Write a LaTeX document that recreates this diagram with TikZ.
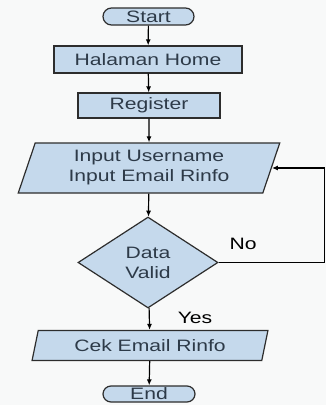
\documentclass[tikz,border=0pt]{standalone}
\usepackage{fontspec}
\setmainfont{Liberation Sans}[FakeStretch=1.28]
\usetikzlibrary{arrows.meta,shapes.geometric,shapes.misc}
\definecolor{boxblue}{RGB}{197,217,236}
\definecolor{boxline}{RGB}{45,45,45}
\definecolor{boxtext}{RGB}{45,58,72}
\definecolor{paper}{RGB}{248,249,249}
\tikzstyle{terminal}=[rounded rectangle,draw=boxline,fill=boxblue,line width=1.2pt,inner sep=0pt,minimum width=91pt,minimum height=17pt,text=boxtext]
\tikzstyle{process}=[rectangle,draw=boxline,fill=boxblue,line width=1.2pt,inner sep=0pt,text=boxtext]
\tikzstyle{io}=[trapezium,trapezium left angle=71,trapezium right angle=109,trapezium stretches=true,draw=boxline,fill=boxblue,line width=1.2pt,inner sep=0pt,align=center,text=boxtext]
\tikzstyle{decision}=[diamond,draw=boxline,fill=boxblue,line width=1.2pt,inner sep=0pt,align=center,text=boxtext,minimum width=140pt,minimum height=91pt]
\tikzstyle{flow}=[draw=black,line width=1.2pt,-{Latex[length=6pt,width=5pt]}]
\tikzstyle{lbl}=[text=black,inner sep=0pt]

\begin{document}
\begin{tikzpicture}[x=1pt,y=-1pt,font=\fontsize{16.5}{20}\selectfont]

  % Canvas
  \fill[paper] (0,0) rectangle (326,405);
  \useasboundingbox (0,0) rectangle (326,405);

  % Flow steps
  \node[terminal] (start) at (148.5,16.5) {Start};
  \node[process,minimum width=188pt,minimum height=27pt] (home) at (148,59.5) {Halaman Home};
  \node[process,minimum width=142pt,minimum height=25pt] (reg) at (149,105.5) {Register};
  \node[io,minimum width=262pt,minimum height=50pt] (input) at (149,168) {Input Username\\Input Email Rinfo};
  \node[decision] (valid) at (148,262.5) {Data\\Valid};
  \node[io,minimum width=236pt,minimum height=30pt] (cek) at (150,345.5) {Cek Email Rinfo};
  \node[terminal,minimum width=92pt,minimum height=16pt] (end) at (149,394) {End};

  % Connect steps top to bottom
  \foreach \source/ \dest in {start/home, home/reg, reg/input, input/valid, valid/cek, cek/end}
    \path[flow] (\source) -- (\dest);

  % Loop back when data is not valid
  \coordinate (back) at (324.5,262.5);
  \path[flow] (valid.east) -- (back) |- (input.east);

  % Labels
  \node[lbl] (no) at (243,244) {No};
  \node[lbl] (yes) at (195,318) {Yes};

\end{tikzpicture}
\end{document}
